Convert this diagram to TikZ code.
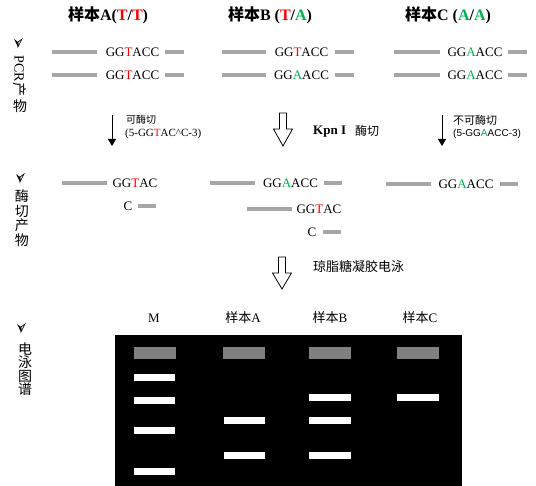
\documentclass[tikz,border=0pt]{standalone}
\usepackage{fontspec}
\setmainfont{Liberation Serif}
\newfontfamily\cjk{Noto Sans CJK SC}
\newfontfamily\lsans{Liberation Sans}
\usetikzlibrary{arrows.meta}
\definecolor{dnagray}{HTML}{A6A6A6}
\definecolor{bandgray}{HTML}{808080}
\definecolor{tred}{HTML}{FF0000}
\definecolor{agreen}{HTML}{00B050}
\newcommand{\Tr}{\textcolor{tred}{T}}
\newcommand{\Ag}{\textcolor{agreen}{A}}
\tikzset{
  strand/.style={draw=dnagray, line width=3.5pt},
  seq/.style={font=\fontsize{13}{15}\selectfont, inner sep=0pt},
  title/.style={font=\bfseries\fontsize{16}{18}\selectfont, inner sep=0pt},
  lane/.style={font=\fontsize{13}{15}\selectfont, inner sep=0pt},
  note/.style={inner sep=0pt, anchor=west},
  thin arrow/.style={draw, line width=0.8pt, -{Triangle[length=7pt,width=8pt]}},
  hollow/.style={draw, line width=0.8pt, fill=white, line join=miter},
  bandw/.style={fill=white},
  bandg/.style={fill=bandgray},
  vbullet/.pic={
    \fill[black] (-4,-4) -- (0,4) -- (0,-1) -- cycle;
    \filldraw[fill=gray!30, draw=black, line width=0.6pt] (4,-4) -- (0,4) -- (0,-1) -- cycle;
  }
}
\begin{document}
\begin{tikzpicture}[x=1pt,y=-1pt]
\useasboundingbox (0,0) rectangle (536,486);

% titles
\node[title] (tA) at (108,15) {{\cjk 样本}A(\Tr/\Tr)};
\node[title] (tB) at (270,15) {{\cjk 样本}B (\Tr/\Ag)};
\node[title] (tC) at (448,15) {{\cjk 样本}C (\Ag/\Ag)};

% left labels
\pic at (18,43) {vbullet};
\node[inner sep=0pt, rotate=-90, font=\fontsize{14}{16}\selectfont] (l1) at (20,76) {PCR{\cjk 产}};
\node[inner sep=0pt, font=\cjk\fontsize{14}{16}\selectfont] (l1b) at (20,106) {物};
\pic at (20,178) {vbullet};
\node[inner sep=0pt, align=center, font=\cjk\fontsize{14}{14.5}\selectfont] (l2) at (22,218) {酶\\切\\产\\物};
\pic at (21,328) {vbullet};
\node[inner sep=0pt, align=center, font=\cjk\fontsize{14}{13.5}\selectfont] (l3) at (25,369) {电\\泳\\图\\谱};

% PCR products row 1 and 2
\foreach \y in {52,75} {
  \draw[strand] (52,\y) -- (97,\y);
  \draw[strand] (165,\y) -- (184,\y);
  \draw[strand] (222,\y) -- (266,\y);
  \draw[strand] (335,\y) -- (354,\y);
  \draw[strand] (394,\y) -- (440,\y);
  \draw[strand] (508,\y) -- (527,\y);
}
\node[seq] (a1) at (132.5,52) {GG\Tr ACC};
\node[seq] (a2) at (132.5,75) {GG\Tr ACC};
\node[seq] (b1) at (301.5,52) {GG\Tr ACC};
\node[seq] (b2) at (301.5,75) {GG\Ag ACC};
\node[seq] (c1) at (475,52) {GG\Ag ACC};
\node[seq] (c2) at (475,75) {GG\Ag ACC};

% digestion arrows
\coordinate (aS) at (112,115);
\coordinate (aE) at (112,146);
\draw[thin arrow] (aS) -- (aE);
\node[note, font=\cjk\fontsize{10}{12}\selectfont] (nA1) at (126,120) {可酶切};
\node[note, font=\fontsize{11}{13}\selectfont] (nA2) at (125,134) {(5-GG\Tr AC\textasciicircum C-3)};

\coordinate (cS) at (442,115);
\coordinate (cE) at (442,146);
\draw[thin arrow] (cS) -- (cE);
\node[note, font=\cjk\fontsize{11}{13}\selectfont] (nC1) at (453,120) {不可酶切};
\node[note, font=\lsans\fontsize{10}{12}\selectfont] (nC2) at (453,134) {(5-GG\Ag ACC-3)};

\draw[hollow] (279.5,113) -- (286.5,113) -- (286.5,129) -- (292.5,129) -- (283,146) -- (273.5,129) -- (279.5,129) -- cycle;
\node[note, font=\bfseries\fontsize{13}{15}\selectfont] (kpn) at (313,132) {Kpn I};
\node[note, font=\cjk\fontsize{12}{14}\selectfont] (kq) at (355,131) {酶切};

% digestion products
\draw[strand] (62,183) -- (107,183);
\node[seq] (d1) at (135,183) {GG\Tr AC};
\node[seq] (d2) at (128,206) {C};
\draw[strand] (138,206) -- (156,206);

\draw[strand] (210,183) -- (255,183);
\node[seq] (d3) at (290.5,183) {GG\Ag ACC};
\draw[strand] (324,183) -- (342,183);
\draw[strand] (247,209) -- (292,209);
\node[seq] (d4) at (319,209) {GG\Tr AC};
\node[seq] (d5) at (312,232) {C};
\draw[strand] (323,232) -- (341,232);

\draw[strand] (386,184) -- (431,184);
\node[seq] (d6) at (466,184) {GG\Ag ACC};
\draw[strand] (500,184) -- (518,184);

% electrophoresis arrow
\draw[hollow] (278.5,257) -- (285.5,257) -- (285.5,273) -- (291.5,273) -- (282,289) -- (272.5,273) -- (278.5,273) -- cycle;
\node[note, font=\cjk\fontsize{13}{15}\selectfont] (gel) at (313,267) {琼脂糖凝胶电泳};

% lane labels
\node[lane] (mM) at (154,318) {M};
\node[lane] (mA) at (243,318) {{\cjk 样本}A};
\node[lane] (mB) at (330,318) {{\cjk 样本}B};
\node[lane] (mC) at (420,318) {{\cjk 样本}C};

% gel
\fill[black] (115,335) rectangle (462,486);
\foreach \x in {134,223,309,397} {
  \fill[bandg] (\x,347) rectangle ++(42,12);
}
% marker
\foreach \y in {374,397,427,468} {\fill[bandw] (134,\y) rectangle ++(41,7.5);}
% sample A
\foreach \y in {417,452} {\fill[bandw] (224,\y) rectangle ++(41,7.5);}
% sample B
\foreach \y in {394,417,452} {\fill[bandw] (309,\y) rectangle ++(42,7.5);}
% sample C
\fill[bandw] (397,394) rectangle ++(42,7.5);
\end{tikzpicture}
\end{document}
